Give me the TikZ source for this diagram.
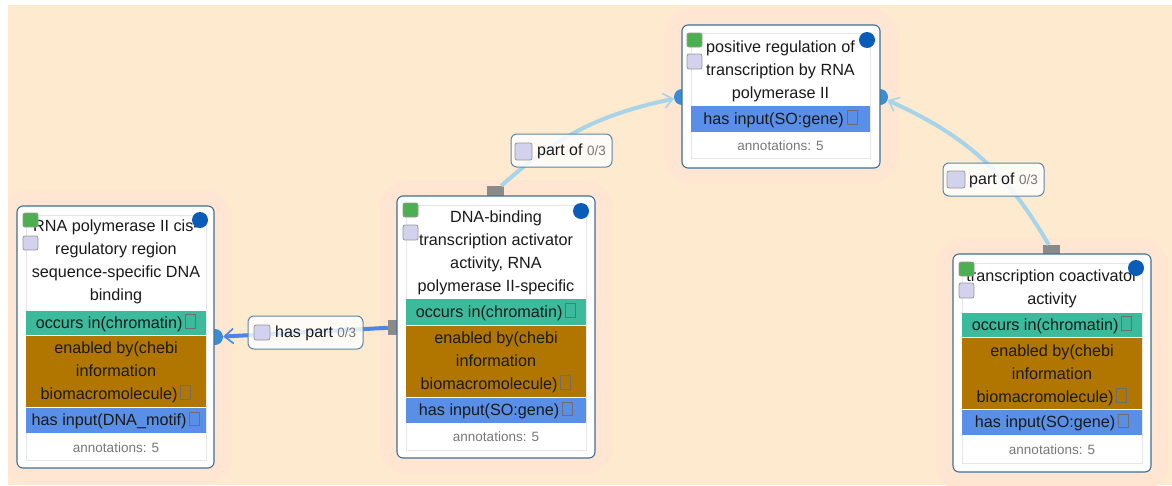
\documentclass[tikz,border=0pt]{standalone}
\usepackage{fontspec}
\setmainfont{Liberation Sans}
\usetikzlibrary{arrows.meta,bending}
\definecolor{bgc}{HTML}{FEEACF}
\definecolor{glowc}{HTML}{FEE6D3}
\definecolor{boxc}{HTML}{3F6F95}
\definecolor{tealc}{HTML}{3BBA9C}
\definecolor{brownc}{HTML}{B07600}
\definecolor{bluebarc}{HTML}{5A8FE8}
\definecolor{greenc}{HTML}{4CAF50}
\definecolor{lavc}{HTML}{D2D2EE}
\definecolor{circc}{HTML}{0B5CB8}
\definecolor{portc}{HTML}{3A8DD4}
\definecolor{gportc}{HTML}{8A8A8A}
\definecolor{hpc}{HTML}{4A86E8}
\definecolor{poc}{HTML}{A8D4EA}
\definecolor{annc}{HTML}{777777}
\definecolor{panelc}{HTML}{E6E6E6}
\definecolor{txtc}{HTML}{1A1A1A}
\definecolor{cbgray}{HTML}{6E6E6E}
\definecolor{lblc}{HTML}{5A86AC}
\newcommand\cbx{\,\raisebox{0.5pt}{\textcolor{cbgray}{\fboxsep=0pt\fboxrule=1pt\fbox{\rule{0pt}{12.5pt}\hspace{9pt}}}}}
\begin{document}
\begin{tikzpicture}[x=1pt,y=-1pt,
  gbox/.style={draw=boxc, line width=1.1pt, fill=white, rounded corners=6pt, inner sep=0pt},
  panel/.style={draw=panelc, line width=0.6pt, fill=white},
  ttl/.style={align=center, inner sep=0pt, font=\fontsize{16.2}{23}\selectfont, text=txtc},
  ann/.style={inner sep=0pt, font=\fontsize{13.5}{15}\selectfont, text=annc},
  gsq/.style={fill=greenc, draw=gray!80, line width=0.8pt, rounded corners=2pt},
  lsq/.style={fill=lavc, draw=gray!80, line width=0.8pt, rounded corners=2pt},
  bport/.style={circle, fill=portc, minimum size=16pt, inner sep=0pt},
  gport/.style={fill=gportc, inner sep=0pt},
  hpedge/.style={draw=hpc, line width=4pt, -{Straight Barb[length=9pt,width=15pt,line width=1.6pt]}},
  poedge/.style={draw=poc, line width=4pt, -{Straight Barb[length=9pt,width=15pt,line width=1.6pt,flex]}},
  lblbox/.style={draw=lblc, line width=1pt, fill=white, fill opacity=0.82, rounded corners=6pt, inner sep=0pt},
  lbltxt/.style={inner sep=0pt, anchor=west, font=\fontsize{16}{18}\selectfont, text=txtc}]
\useasboundingbox (0,0) rectangle (1172,485);
\fill[white] (0,0) rectangle (1172,485);
\fill[bgc] (8,5) rectangle (1172,485);
% glows
\begin{scope}
\clip (8,5) rectangle (1172,485);
\fill[glowc, rounded corners=28pt] (0,190) rectangle (232,484);
\fill[glowc, rounded corners=28pt] (380,180) rectangle (612,474);
\fill[glowc, rounded corners=28pt] (664,8) rectangle (898,184);
\fill[glowc, rounded corners=28pt] (936,238) rectangle (1168,492);
\end{scope}
% ports (blue, behind boxes)
\node[bport] (p1r) at (215,337) {};
\node[bport] (p3l) at (682,97) {};
\node[bport] (p3r) at (880,97) {};
% gray ports
\node[gport, minimum width=17pt, minimum height=10pt] (g2t) at (495.5,191) {};
\node[gport, minimum width=10pt, minimum height=15pt] (g2l) at (393,327.5) {};
\node[gport, minimum width=17pt, minimum height=9pt] (g4t) at (1051.5,249.5) {};
% edges
\draw[hpedge] (g2l) -- (p1r);
\draw[poedge] (g2t) to[bend left=15] (p3l);
\draw[poedge] (g4t) to[bend right=18] (p3r);
% node 1
\node[gbox, minimum width=197pt, minimum height=262pt] (n1) at (115.5,337) {};
\draw[panel] (26,215) rectangle (206,460);
\fill[tealc] (26,311) rectangle (206,335);
\fill[brownc] (26,336) rectangle (206,407);
\fill[bluebarc] (26,408) rectangle (206,433);
\node[ttl] (t1) at (116,262) {RNA polymerase II cis-\\regulatory region\\sequence-specific DNA\\binding};
\node[ttl] (t1a) at (116,323) {occurs in(chromatin)\cbx};
\node[ttl] (t1b) at (116,372) {enabled by(chebi\\information\\biomacromolecule)\cbx};
\node[ttl] (t1c) at (116,420.5) {has input(DNA\_motif)\cbx};
\node[ann] (a1) at (116,448) {annotations: 5};
\draw[gsq] (23,213) rectangle (38,227);
\draw[lsq] (23,236) rectangle (38,250);
\fill[circc] (200,220) circle (8);
% node 2
\node[gbox, minimum width=198pt, minimum height=262pt] (n2) at (496,327) {};
\draw[panel] (406,205) rectangle (586,450);
\fill[tealc] (406,299) rectangle (586,325);
\fill[brownc] (406,326) rectangle (586,397);
\fill[bluebarc] (406,398) rectangle (586,423);
\node[ttl] (t2) at (496,253) {DNA-binding\\transcription activator\\activity, RNA\\polymerase II-specific};
\node[ttl] (t2a) at (496,312) {occurs in(chromatin)\cbx};
\node[ttl] (t2b) at (496,362) {enabled by(chebi\\information\\biomacromolecule)\cbx};
\node[ttl] (t2c) at (496,410.5) {has input(SO:gene)\cbx};
\node[ann] (a2) at (496,437) {annotations: 5};
\draw[gsq] (403,203) rectangle (418,217);
\draw[lsq] (403,225) rectangle (418,240);
\fill[circc] (581,211) circle (8);
% node 3
\node[gbox, minimum width=198pt, minimum height=143pt] (n3) at (781,96.5) {};
\draw[panel] (691,33) rectangle (870,158);
\fill[bluebarc] (691,106) rectangle (870,132);
\node[ttl] (t3) at (780.5,71.5) {positive regulation of\\transcription by RNA\\polymerase II};
\node[ttl] (t3c) at (780.5,119) {has input(SO:gene)\cbx};
\node[ann] (a3) at (780.5,146) {annotations: 5};
\draw[gsq] (687,33) rectangle (702,47);
\draw[lsq] (687,54) rectangle (702,69);
\fill[circc] (867,40) circle (8);
% node 4
\node[gbox, minimum width=198pt, minimum height=218pt] (n4) at (1052,363) {};
\draw[panel] (962,263) rectangle (1142,463);
\fill[tealc] (962,313) rectangle (1142,337);
\fill[brownc] (962,338) rectangle (1142,409);
\fill[bluebarc] (962,410) rectangle (1142,435);
\node[ttl] (t4) at (1052,288.5) {transcription coactivator\\activity};
\node[ttl] (t4a) at (1052,325) {occurs in(chromatin)\cbx};
\node[ttl] (t4b) at (1052,375) {enabled by(chebi\\information\\biomacromolecule)\cbx};
\node[ttl] (t4c) at (1052,422.5) {has input(SO:gene)\cbx};
\node[ann] (a4) at (1052,450) {annotations: 5};
\draw[gsq] (959,262) rectangle (974,276);
\draw[lsq] (959,283) rectangle (974,298);
\fill[circc] (1136,268) circle (8);
% labels
\node[lblbox, minimum width=115pt, minimum height=33pt] (l1) at (305.5,332.5) {};
\draw[lsq] (254,325) rectangle (270,340);
\node[lbltxt] (l1t) at (275,333) {has part \textcolor{annc}{\fontsize{13.5}{16}\selectfont 0/3}};
\node[lblbox, minimum width=101pt, minimum height=33pt] (l2) at (561.5,150.5) {};
\draw[lsq] (515,143) rectangle (532,160);
\node[lbltxt] (l2t) at (537,151) {part of \textcolor{annc}{\fontsize{13.5}{16}\selectfont 0/3}};
\node[lblbox, minimum width=101pt, minimum height=33pt] (l3) at (993.5,179.5) {};
\draw[lsq] (947,171) rectangle (965,188);
\node[lbltxt] (l3t) at (969,180) {part of \textcolor{annc}{\fontsize{13.5}{16}\selectfont 0/3}};
\end{tikzpicture}
\end{document}
